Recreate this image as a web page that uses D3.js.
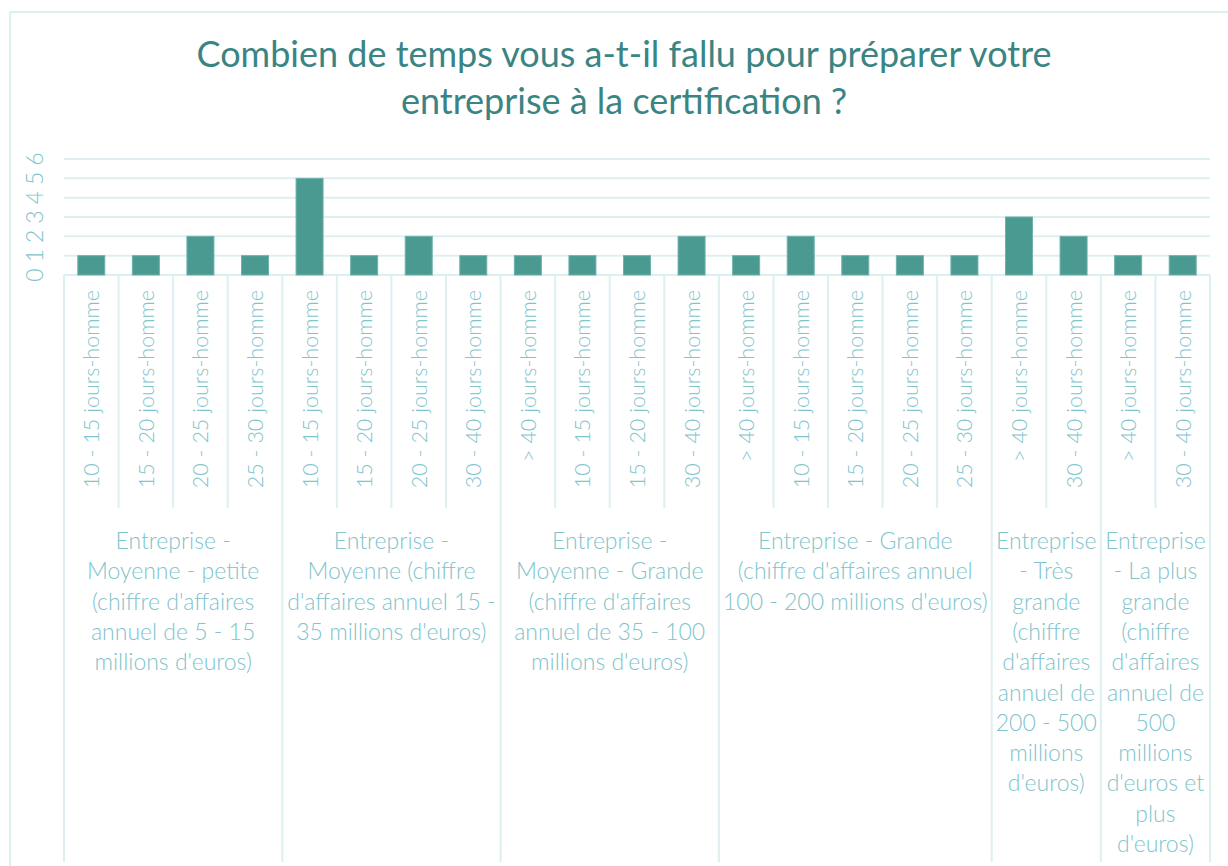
<!DOCTYPE html>
<html><head><meta charset="utf-8">
<script src="https://cdn.jsdelivr.net/npm/d3@7"></script>
<style>
html,body{margin:0;padding:0;background:#fff;}
svg{display:block;}
</style></head>
<body>
<svg id="chart" width="1228" height="866"></svg>
<script>
const title = ["Combien de temps vous a-t-il fallu pour préparer votre", "entreprise à la certification ?"];
const groups = [
  ["Entreprise -", "Moyenne - petite", "(chiffre d'affaires", "annuel de 5 - 15", "millions d'euros)"],
  ["Entreprise -", "Moyenne (chiffre", "d'affaires annuel 15 -", "35 millions d'euros)"],
  ["Entreprise -", "Moyenne - Grande", "(chiffre d'affaires", "annuel de 35 - 100", "millions d'euros)"],
  ["Entreprise - Grande", "(chiffre d'affaires annuel", "100 - 200 millions d'euros)"],
  ["Entreprise", "- Très", "grande", "(chiffre", "d'affaires", "annuel de", "200 - 500", "millions", "d'euros)"],
  ["Entreprise", "- La plus", "grande", "(chiffre", "d'affaires", "annuel de", "500", "millions", "d'euros et", "plus", "d'euros)"]
];
const categories = [
  ["10 - 15 jours-homme", "15 - 20 jours-homme", "20 - 25 jours-homme", "25 - 30 jours-homme"],
  ["10 - 15 jours-homme", "15 - 20 jours-homme", "20 - 25 jours-homme", "30 - 40 jours-homme"],
  ["> 40 jours-homme", "10 - 15 jours-homme", "15 - 20 jours-homme", "30 - 40 jours-homme"],
  ["> 40 jours-homme", "10 - 15 jours-homme", "15 - 20 jours-homme", "20 - 25 jours-homme", "25 - 30 jours-homme"],
  ["> 40 jours-homme", "30 - 40 jours-homme"],
  ["> 40 jours-homme", "30 - 40 jours-homme"]
];
const values = [
  [1, 1, 2, 1],
  [5, 1, 2, 1],
  [1, 1, 1, 2],
  [1, 2, 1, 1, 1],
  [3, 2],
  [1, 1]
];
const yTicks = [0, 1, 2, 3, 4, 5, 6];

(function () {
const rows = [];
categories.forEach((cats, gi) => cats.forEach((c, ci) => rows.push({id: gi + "-" + ci, g: gi, cat: c, v: values[gi][ci]})));

const svg = d3.select("#chart");
const font = "Lato, 'Noto Sans', sans-serif";
const gridCol = "#dcf0f2";
const labelCol = "#80c4cc";
const left = 64, right = 1210, plotTop = 159, zero = 275;

svg.append("line").attr("x1", 10).attr("x2", 1228).attr("y1", 12).attr("y2", 12).attr("stroke", gridCol).attr("stroke-width", 2);
svg.append("line").attr("x1", 10).attr("x2", 10).attr("y1", 12).attr("y2", 866).attr("stroke", gridCol).attr("stroke-width", 2);

svg.append("text").attr("x", 624).attr("text-anchor", "middle")
  .attr("font-family", font).attr("font-size", 36).attr("fill", "#3a8484")
  .selectAll("tspan").data(title).join("tspan")
  .attr("x", 624).attr("y", (d, i) => 67 + i * 47).text(d => d);

const x = d3.scaleBand().domain(rows.map(r => r.id)).range([left, right]).paddingInner(0).paddingOuter(0);
const y = d3.scaleLinear().domain([0, 6]).range([zero, plotTop]);

svg.append("g").selectAll("line").data(yTicks).join("line")
  .attr("x1", left).attr("x2", right).attr("y1", d => y(d)).attr("y2", d => y(d))
  .attr("stroke", gridCol).attr("stroke-width", 2);

svg.append("g").selectAll("text").data(yTicks).join("text")
  .attr("transform", d => `translate(43,${y(d)}) rotate(-90)`)
  .attr("text-anchor", "middle")
  .attr("font-family", font).attr("font-size", 23).attr("font-weight", 300).attr("fill", labelCol)
  .text(d => d);

const bw = 27;
svg.append("g").selectAll("rect").data(rows).join("rect")
  .attr("x", d => x(d.id) + x.bandwidth() / 2 - bw / 2)
  .attr("width", bw)
  .attr("y", d => y(d.v))
  .attr("height", d => y(0) - y(d.v))
  .attr("fill", "#4a9a92").attr("stroke", "#6cb3ab").attr("stroke-width", 1);

const bounds = rows.map(r => x(r.id)).concat([right]);
const groupStarts = new Set();
let idx = 0;
categories.forEach(c => { groupStarts.add(idx); idx += c.length; });
groupStarts.add(rows.length);
svg.append("g").selectAll("line").data(bounds.map((b, i) => ({b, i}))).join("line")
  .attr("x1", d => d.b).attr("x2", d => d.b)
  .attr("y1", zero).attr("y2", d => groupStarts.has(d.i) ? 862 : 508)
  .attr("stroke", gridCol).attr("stroke-width", 2);

svg.append("g").selectAll("text").data(rows).join("text")
  .attr("transform", d => `translate(${x(d.id) + x.bandwidth() / 2 + 8},290) rotate(-90)`)
  .attr("text-anchor", "end")
  .attr("font-family", font).attr("font-size", 21.5).attr("font-weight", 300).attr("fill", labelCol)
  .text(d => d.cat);

let start = 0;
categories.forEach((c, gi) => {
  const x0 = x(rows[start].id);
  const x1 = start + c.length < rows.length ? x(rows[start + c.length].id) : right;
  start += c.length;
  const cx = (x0 + x1) / 2;
  svg.append("text").attr("text-anchor", "middle")
    .attr("font-family", font).attr("font-size", 23).attr("font-weight", 300).attr("fill", labelCol)
    .selectAll("tspan").data(groups[gi]).join("tspan")
    .attr("x", cx).attr("y", (d, i) => 549 + i * 30.3).text(d => d);
});
})();
</script>
</body></html>
